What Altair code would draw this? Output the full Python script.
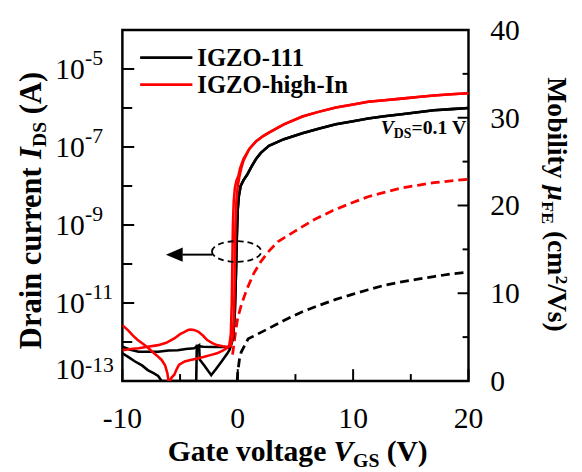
import altair as alt
import pandas as pd

# ------------------------------------------------------------------
# Transfer curves: gate voltage (V) and log10(drain current / A)
# ------------------------------------------------------------------
# IGZO-111, sweep 1 (off-state)
b1_off_v = [-10, -9.3, -8.6, -7.8, -6.9, -6.0, -5.2, -4.5, -3.8, -3.35, -3.3, -2.9, -2.3, -1.9, -1.4, -0.94, -0.7]
b1_off_log = [-12.12, -12.2, -12.25, -12.25, -12.25, -12.22, -12.21, -12.18, -12.16, -12.08, -12.45, -12.6, -12.85, -12.7, -12.5, -12.31, -12.2]
# IGZO-111, sweep 2 (off-state)
b2_off_v = [-10, -9.5, -8.9, -8.3, -7.8, -7.3, -6.9, -6.6, -5.5, -4.5, -3.6, -3.55, -3.0, -2.0, -1.2, -0.7]
b2_off_log = [-12.29, -12.38, -12.5, -12.6, -12.72, -12.8, -12.87, -13.0, -13.0, -13.0, -13.0, -12.1, -12.12, -12.13, -12.13, -12.15]
# IGZO-111, turn-on and on-state
b_on_v = [-0.4, -0.25, -0.15, -0.08, 0.0, 0.1, 0.25, 0.5, 0.8, 1.2, 1.6, 2.0, 2.7, 4.0, 5.6, 7.0, 8.5, 10.0, 11.3, 12.7, 14.2, 15.6, 17.0, 18.5, 20.0]
b_on_log = [-11.9, -11.2, -10.2, -9.3, -8.6, -8.25, -8.0, -7.85, -7.72, -7.5, -7.3, -7.15, -6.97, -6.8, -6.65, -6.53, -6.42, -6.34, -6.27, -6.21, -6.16, -6.11, -6.06, -6.03, -6.0]

# IGZO-high-In, sweep 1 (off-state, with dip)
r1_off_v = [-10, -9.5, -9.1, -8.7, -8.25, -7.8, -7.4, -7.0, -6.6, -6.3, -6.1, -6.0, -5.9, -5.7, -5.5, -5.3, -5.1, -4.6, -4.1, -3.5, -2.9, -2.3, -1.8, -1.3, -0.94, -0.75]
r1_off_log = [-11.57, -11.7, -11.83, -11.94, -12.04, -12.14, -12.25, -12.35, -12.46, -12.6, -12.8, -13.0, -13.0, -12.9, -12.84, -12.7, -12.59, -12.5, -12.46, -12.42, -12.38, -12.33, -12.29, -12.22, -12.16, -12.12]
r1_on_v = [-0.6, -0.52, -0.47, -0.42, -0.35, -0.25, -0.1, 0.05, 0.2, 0.5, 1.0, 1.6, 2.2, 2.7, 4.0, 5.6, 7.0, 8.5, 10.0, 11.3, 12.7, 14.2, 15.6, 17.0, 18.5, 20.0]
r1_on_log = [-11.8, -11.0, -10.0, -9.0, -8.4, -8.05, -7.85, -7.75, -7.55, -7.3, -7.05, -6.85, -6.72, -6.63, -6.42, -6.22, -6.1, -5.99, -5.91, -5.84, -5.8, -5.76, -5.72, -5.68, -5.65, -5.62]
# IGZO-high-In, sweep 2 (off-state with hump, second turn-on)
r2_off_v = [-10, -9.3, -8.6, -7.8, -6.9, -6.2, -5.5, -5.0, -4.6, -4.3, -4.1, -3.8, -3.4, -3.0, -2.65, -2.2, -1.8, -1.3, -0.94, -0.6]
r2_off_log = [-12.21, -12.18, -12.16, -12.12, -12.08, -12.02, -11.91, -11.8, -11.74, -11.69, -11.68, -11.69, -11.74, -11.84, -11.95, -12.03, -12.08, -12.11, -12.12, -12.1]
r2_rise_v = [-0.4, -0.3, -0.25, -0.2, -0.12, 0.0, 0.15, 0.3, 0.5]
r2_rise_log = [-11.8, -11.0, -10.0, -9.0, -8.4, -8.0, -7.75, -7.55, -7.35]

# ------------------------------------------------------------------
# Field-effect mobility (cm^2/Vs)
# ------------------------------------------------------------------
mu_b_v = [-0.05, 0.0, 0.15, 0.3, 0.9, 1.8, 2.7, 4.0, 5.6, 7.0, 8.5, 10.0, 11.3, 12.7, 14.2, 15.6, 17.0, 18.5, 20.0]
mu_b = [0.0, 1.0, 2.5, 3.3, 4.8, 5.4, 6.0, 6.9, 7.9, 8.6, 9.3, 9.9, 10.4, 10.9, 11.3, 11.6, 11.9, 12.2, 12.4]
mu_r_v = [-0.45, -0.2, 0.0, 0.34, 0.8, 1.4, 2.0, 2.7, 3.5, 5.0, 6.5, 8.2, 9.7, 11.3, 12.7, 14.2, 15.6, 17.0, 18.5, 20.0]
mu_r = [3.0, 5.5, 7.2, 8.8, 10.5, 12.3, 13.6, 14.8, 15.9, 17.1, 18.3, 19.4, 20.2, 21.0, 21.5, 22.0, 22.3, 22.6, 22.8, 23.0]

samples = ["IGZO-111", "IGZO-high-In"]
colors = ["#000000", "#ff0000"]

# axis ticks / labels
x_major = [-10, 0, 10, 20]
x_minor = [-5, 5, 15]
x_labels = ["-10", "0", "10", "20"]
log_major = [-13, -11, -9, -7, -5]
log_minor = [-12, -10, -8, -6]
mu_major = [10, 20, 30]
mu_minor = [5, 15, 25, 35]
mu_labels = [0, 10, 20, 30, 40]

# annotation (ellipse marking I-V curves, arrow pointing left)
ellipse_v = [-0.1]
ellipse_log = [-9.68]
arrow_v = [-2.2, -4.8]
arrow_head_v = [-5.5]
arrow_log = [-9.76]

# ------------------------------------------------------------------
W, H = 351, 356
FONT = "Liberation Serif"

xs = alt.Scale(domain=[-10, 20], nice=False, zero=False)
ylog = alt.Scale(type="log", domain=[1e-13, 1e-4], nice=False)
ymu = alt.Scale(domain=[0, 40], nice=False, zero=False)


def curve_df(name, vs, logs):
    return pd.DataFrame({"curve": name, "V": vs, "I": [10.0 ** l for l in logs], "idx": range(len(vs))})


r2_on_v = r2_rise_v + [v for v in r1_on_v if v >= 1.0]
r2_on_log = r2_rise_log + [l for v, l in zip(r1_on_v, r1_on_log) if v >= 1.0]

black_df = pd.concat([
    curve_df("b1", b1_off_v + b_on_v, b1_off_log + b_on_log),
    curve_df("b2", b2_off_v + b_on_v, b2_off_log + b_on_log),
])
red_df = pd.concat([
    curve_df("r1", r1_off_v + r1_on_v, r1_off_log + r1_on_log),
    curve_df("r2", r2_off_v + r2_on_v, r2_off_log + r2_on_log),
])

X = alt.X("V:Q", scale=xs, axis=None)
YL = alt.Y("I:Q", scale=ylog, axis=None)
YM = alt.Y("mu:Q", scale=ymu, axis=None)

layers = []

# mobility (dashed, right axis)
for vs, ms, c in [(mu_b_v, mu_b, colors[0]), (mu_r_v, mu_r, colors[1])]:
    df = pd.DataFrame({"V": vs, "mu": ms, "idx": range(len(vs))})
    layers.append(alt.Chart(df).mark_line(color=c, strokeWidth=2.8, strokeDash=[9, 5], clip=True)
                  .encode(x=X, y=YM, order="idx:Q"))

# transfer curves (solid, left log axis)
for df, c in [(black_df, colors[0]), (red_df, colors[1])]:
    layers.append(alt.Chart(df).mark_line(color=c, strokeWidth=2.6, clip=True)
                  .encode(x=X, y=YL, detail="curve:N", order="idx:Q"))

# ellipse + arrow annotation
layers.append(alt.Chart(pd.DataFrame({"V": ellipse_v, "I": [10 ** l for l in ellipse_log]}))
              .mark_point(shape="M -1 0 A 1 0.42 0 1 1 1 0 A 1 0.42 0 1 1 -1 0 Z", size=2500,
                          filled=False, color="black", strokeWidth=1.8, strokeDash=[6, 4], opacity=1)
              .encode(x=X, y=YL))
layers.append(alt.Chart(pd.DataFrame({"V": [arrow_v[0]], "V2": [arrow_v[1]], "I": [10 ** arrow_log[0]]}))
              .mark_rule(color="black", strokeWidth=2)
              .encode(x=X, x2="V2:Q", y=YL))
layers.append(alt.Chart(pd.DataFrame({"V": arrow_head_v, "I": [10 ** arrow_log[0]]}))
              .mark_point(shape="M -1 0 L 1 -0.85 L 1 0.85 Z", size=289, filled=True, color="black", opacity=1)
              .encode(x=X, y=YL))

# inward ticks
def xt(vals, ln):
    return alt.Chart(pd.DataFrame({"V": vals})).mark_rule(color="black", strokeWidth=2).encode(
        x=X, y=alt.value(H), y2=alt.value(H - ln))

layers += [xt(x_major, 12), xt(x_minor, 7)]
for vals, ln in [(log_major, 12), (log_minor, 10)]:
    layers.append(alt.Chart(pd.DataFrame({"I": [10.0 ** e for e in vals]})).mark_rule(color="black", strokeWidth=2)
                  .encode(x=alt.value(0), x2=alt.value(ln), y=YL))
for vals, ln in [(mu_major, 11), (mu_minor, 6)]:
    layers.append(alt.Chart(pd.DataFrame({"mu": vals})).mark_rule(color="black", strokeWidth=2)
                  .encode(x=alt.value(W - ln), x2=alt.value(W), y=YM))

# tick labels
TICK_FS = 30
layers.append(alt.Chart(pd.DataFrame({"V": x_major, "lab": x_labels}))
              .mark_text(font=FONT, fontSize=TICK_FS, baseline="alphabetic", align="center", color="black")
              .encode(x=X, y=alt.value(404), text="lab:N"))
log_df = pd.DataFrame({"e": log_major, "I": [10.0 ** e for e in log_major], "ten": "10",
                       "sup": [str(e) for e in log_major]})
for cond, dy10, dys in [(alt.datum.e > -13, 10, -4), (alt.datum.e <= -13, -2, -9)]:
    layers.append(alt.Chart(log_df).transform_filter(cond)
                  .mark_text(font=FONT, fontSize=TICK_FS, baseline="alphabetic", align="left", color="black", dy=dy10)
                  .encode(x=alt.value(-68), y=YL, text="ten:N"))
    layers.append(alt.Chart(log_df).transform_filter(cond)
                  .mark_text(font=FONT, fontSize=22, baseline="alphabetic", align="left", color="black", dy=dys)
                  .encode(x=alt.value(-38), y=YL, text="sup:N"))
layers.append(alt.Chart(pd.DataFrame({"mu": mu_labels, "lab": [str(m) for m in mu_labels]}))
              .mark_text(font=FONT, fontSize=TICK_FS, baseline="alphabetic", align="left", color="black", dy=10)
              .encode(x=alt.value(373), y=YM, text="lab:N"))


def txt(s, x, y, size, italic=False, angle=0, color="black"):
    return (alt.Chart(pd.DataFrame({"t": [s]}))
            .mark_text(font=FONT, fontSize=size, fontWeight="bold", fontStyle="italic" if italic else "normal",
                       angle=angle, align="left", baseline="alphabetic", color=color)
            .encode(x=alt.value(x), y=alt.value(y), text="t:N"))

# x title
layers += [txt("Gate voltage", 46, 437, 30), txt("V", 214, 437, 30, True),
           txt("GS", 234, 443, 20), txt("(V)", 268, 437, 30)]
# left title (rotated, reading upward)
layers += [txt("Drain current", -83, 323.7, 31, angle=270), txt("I", -83, 130.8, 31, True, 270),
           txt("DS", -77, 118.7, 20, angle=270), txt("(A)", -83, 85.4, 31, angle=270)]
# right title (rotated, reading downward)
layers += [txt("Mobility", 432, 48, 28, angle=90), txt("\u03bc", 432, 157.7, 28, True, 90),
           txt("FE", 426, 173.8, 18, angle=90), txt("(cm", 432, 203.8, 28, angle=90),
           txt("2", 440, 248.9, 18, angle=90), txt("/Vs)", 432, 257.9, 28, angle=90)]
# V_DS annotation
layers += [txt("V", 262, 105, 20, True), txt("DS", 275.3, 110, 14), txt("=0.1 V", 293.2, 105, 20)]

# legend
for i, (s, c) in enumerate(zip(samples, colors)):
    yy = 28 + 27.5 * i
    layers.append(alt.Chart(pd.DataFrame({"s": [s]})).mark_rule(color=c, strokeWidth=2.8)
                  .encode(x=alt.value(18), x2=alt.value(71), y=alt.value(yy)))
    layers.append(txt(s, 76, yy + 8.5, 25))

chart = (alt.layer(*layers)
         .resolve_scale(y="independent")
         .properties(width=W, height=H, autosize=alt.AutoSizeParams(type="none"),
                     padding={"left": 116, "top": 19, "right": 107, "bottom": 89})
         .configure_view(stroke="black", strokeWidth=2.5))

chart.save("out.html", embed_options={"renderer": "svg", "actions": False})
